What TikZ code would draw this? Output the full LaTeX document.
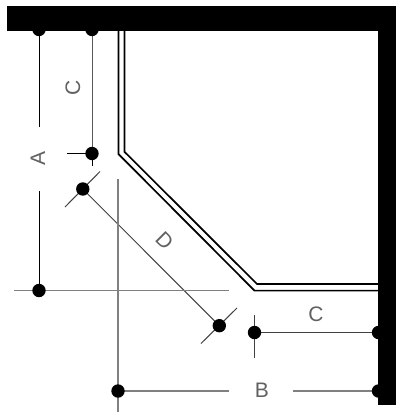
\documentclass[tikz,border=0pt]{standalone}
\usepackage{fontspec}
\usetikzlibrary{backgrounds}
\setmainfont{Liberation Sans}
\begin{document}
\begin{tikzpicture}[x=1pt,y=-1pt,
  dot/.style={circle,fill=black,inner sep=0pt,minimum size=13.4pt},
  dim/.style={line width=1pt,color=black!75},
  blackdim/.style={line width=1pt,color=black},
  graydim/.style={line width=1.4pt,color=black!50},
  wallline/.style={line width=1.7pt,color=black,line join=miter},
  lbl/.style={inner sep=0pt,font=\fontsize{21}{21}\selectfont,text=black!62}]
\useasboundingbox (0,0) rectangle (396,413);
% coordinates
\coordinate (o1) at (118.4,31);
\coordinate (o2) at (118.4,154);
\coordinate (o3) at (254.5,290.6);
\coordinate (o4) at (378,290.6);
\coordinate (i1) at (124.4,31);
\coordinate (i2) at (124.4,151.7);
\coordinate (i3) at (257,284);
\coordinate (i4) at (378,284);
% dots
\node[dot] (ta) at (39,29.5) {};
\node[dot] (tc) at (92,29.5) {};
\node[dot] (cb) at (92,153.5) {};
\node[dot] (ab) at (39,290.5) {};
\node[dot] (d1) at (82.8,189) {};
\node[dot] (d2) at (219.3,325.7) {};
\node[dot] (c1) at (254.5,332.5) {};
\node[dot] (c2) at (378.5,332.5) {};
\node[dot] (b1) at (118,391) {};
\node[dot] (b2) at (378.5,391) {};
% walls
\fill[black] (7,5.5) rectangle (396,31);
\fill[black] (378,31) rectangle (396,405);
% double line
\draw[wallline] (o1) -- (o2) -- (o3) -- (o4);
\draw[wallline] (i1) -- (i2) -- (i3) -- (i4);
% labels
\node[lbl,rotate=90] (lc) at (73,88) {C};
\node[lbl,rotate=90] (la) at (38,158.5) {A};
\node[lbl,rotate=-45] (ld) at (164.5,240.5) {D};
\node[lbl] (lc2) at (316,314.5) {C};
\node[lbl] (lb) at (262,390) {B};
% free ends
\coordinate (ag1) at (39,127);
\coordinate (ag2) at (39,191);
\coordinate (cs) at (92,166);
\coordinate (cw) at (67,153.5);
\coordinate (t1a) at (65,207);
\coordinate (t1b) at (100,171.5);
\coordinate (t2a) at (201,343.5);
\coordinate (t2b) at (237,308);
\coordinate (c1n) at (254.5,315);
\coordinate (c1s) at (254.5,358);
\coordinate (hl) at (14,290.5);
\coordinate (hr) at (229,290.5);
\coordinate (vt) at (118,179);
\coordinate (vb) at (118,412);
\coordinate (bg1) at (229,391);
\coordinate (bg2) at (293,391);
% dimension lines, behind the dots
\begin{scope}[on background layer]
\draw[blackdim] (ta.center) -- (ag1);
\draw[blackdim] (ag2) -- (ab.center);
\draw[blackdim] (tc.center) -- (cb.center) -- (cs);
\draw[blackdim] (cw) -- (cb.center);
\draw[dim] (t1a) -- (t1b);
\draw[dim] (t2a) -- (t2b);
\draw[dim] (d1.center) -- (d2.center);
\draw[dim] (c1n) -- (c1s);
\draw[dim] (c1.center) -- (c2.center);
\draw[graydim] (hl) -- (hr);
\draw[graydim] (vt) -- (vb);
\draw[graydim] (b1.center) -- (bg1);
\draw[graydim] (bg2) -- (b2.center);
\end{scope}
\end{tikzpicture}
\end{document}
